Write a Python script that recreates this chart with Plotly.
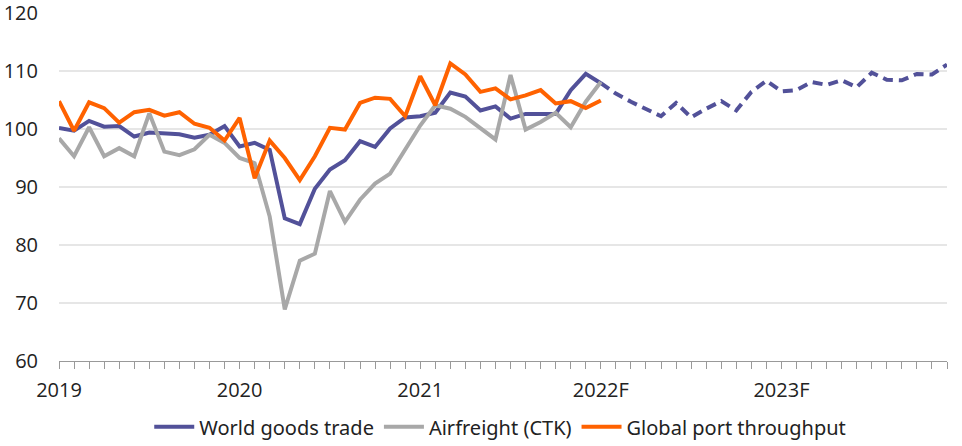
import plotly.graph_objects as go

# monthly categories, Jan 2019 - Dec 2023
months = [f"{y}-{m:02d}" for y in range(2019, 2024) for m in range(1, 13)]
year_ticks = ["2019-01", "2020-01", "2021-01", "2022-01", "2023-01"]
year_labels = ["2019", "2020", "2021", "2022F", "2023F"]

# index values (Jan 2019 - Jan 2022)
world_trade = [100.2, 99.7, 101.4, 100.4, 100.5, 98.7, 99.4, 99.3, 99.1, 98.5, 99.0, 100.5,
               97.0, 97.6, 96.4, 84.6, 83.6, 89.7, 93.0, 94.6, 97.9, 96.9, 100.1, 102.0,
               102.2, 102.8, 106.3, 105.6, 103.2, 103.9, 101.8, 102.6, 102.6, 102.6, 106.7, 109.5,
               107.9]
# forecast, Jan 2022 - Dec 2023
world_trade_f = [107.9, 106.1, 104.7, 103.5, 102.2, 104.5, 102.0, 103.5, 104.8, 103.2, 106.4, 108.3,
                 106.5, 106.7, 108.1, 107.6, 108.4, 107.2, 109.7, 108.5, 108.4, 109.5, 109.4, 111.1]
airfreight = [98.4, 95.3, 100.3, 95.3, 96.7, 95.3, 102.7, 96.1, 95.5, 96.5, 99.0, 97.6,
              95.0, 94.1, 84.9, 68.9, 77.3, 78.5, 89.3, 84.0, 87.8, 90.6, 92.3, 96.6,
              100.6, 104.1, 103.5, 102.1, 100.1, 98.2, 109.3, 99.9, 101.2, 102.8, 100.3, 104.7,
              108.1]
port = [104.8, 99.7, 104.6, 103.6, 101.1, 102.9, 103.3, 102.3, 102.9, 100.9, 100.2, 98.0,
        101.9, 91.5, 98.0, 95.0, 91.2, 95.3, 100.2, 99.9, 104.5, 105.4, 105.2, 102.2,
        109.1, 104.1, 111.3, 109.4, 106.4, 107.0, 105.1, 105.8, 106.7, 104.4, 104.8, 103.6,
        104.9]

BLUE = "#525199"
GREY = "#A8A8A8"
ORANGE = "#FF6200"

fig = go.Figure()
fig.add_trace(go.Scatter(x=months[:len(world_trade)], y=world_trade, mode="lines",
                         name="World goods trade", line=dict(color=BLUE, width=4)))
fig.add_trace(go.Scatter(x=months[36:36 + len(world_trade_f)], y=world_trade_f, mode="lines",
                         showlegend=False, line=dict(color=BLUE, width=4, dash="10px,6px")))
fig.add_trace(go.Scatter(x=months[:len(airfreight)], y=airfreight, mode="lines",
                         name="Airfreight (CTK)", line=dict(color=GREY, width=4)))
fig.add_trace(go.Scatter(x=months[:len(port)], y=port, mode="lines",
                         name="Global port throughput", line=dict(color=ORANGE, width=4)))

ticktext = [year_labels[year_ticks.index(m)] if m in year_ticks else "" for m in months]

fig.update_layout(
    width=962, height=446,
    margin=dict(l=59, r=15, t=13, b=85),
    paper_bgcolor="white", plot_bgcolor="white",
    font=dict(family="Open Sans, sans-serif", size=20, color="#222222"),
    showlegend=True,
    legend=dict(orientation="h", x=0.52, xanchor="center", xref="container",
                y=0.043, yanchor="middle", yref="container",
                font=dict(family="Noto Sans, sans-serif", size=20, color="#222222"),
                itemwidth=40, tracegroupgap=0),
    xaxis=dict(type="category", categoryorder="array", categoryarray=months,
               range=[0, 59], tickmode="array", tickvals=months, ticktext=ticktext,
               ticks="outside", ticklen=7, tickcolor="#999999", tickwidth=1,
               showline=True, linecolor="#999999", linewidth=1, automargin=False,
               showgrid=False, zeroline=False, ticklabelstandoff=4,
               ticklabeloverflow="allow"),
    yaxis=dict(range=[60, 120], tickvals=[60, 70, 80, 90, 100, 110, 120],
               showgrid=True, gridcolor="#E6E6E6", gridwidth=1.5, automargin=False,
               zeroline=False, showline=False, ticks="", ticklabelstandoff=20,
               ticklabeloverflow="allow"),
)

# drop the default page margin so the chart fills the window
fig.write_html("out.html", config={"displayModeBar": False},
               post_script="document.body.style.margin='0';")
